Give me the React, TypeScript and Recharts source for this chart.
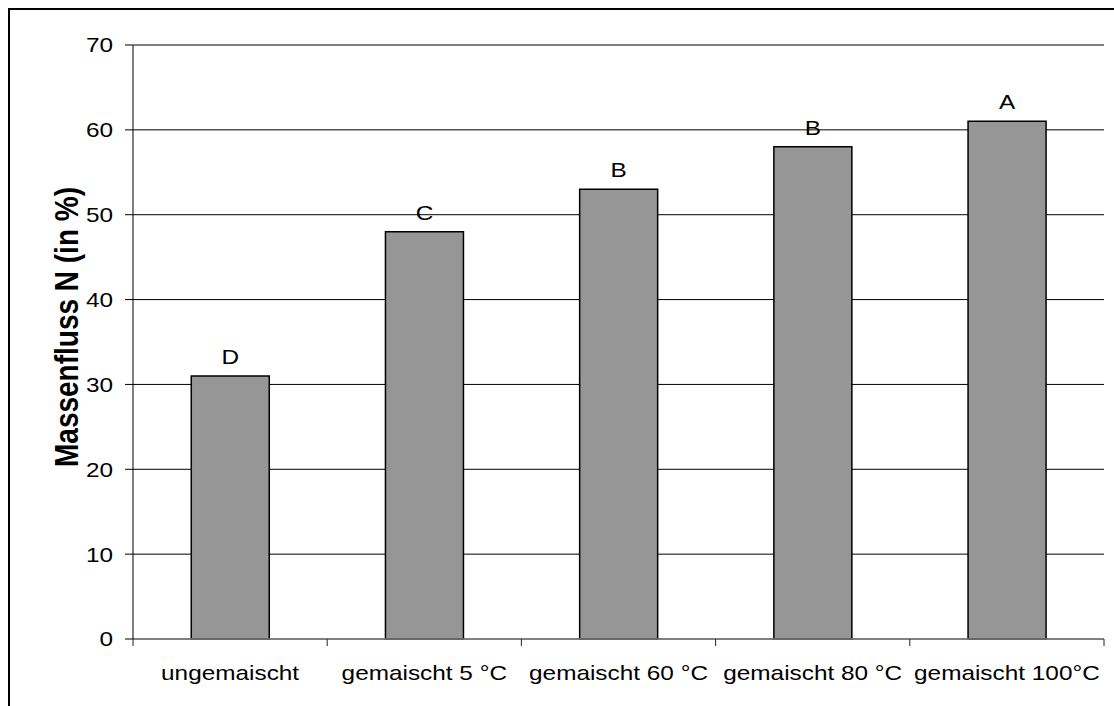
import { BarChart, Bar, XAxis, YAxis, CartesianGrid, LabelList, Label } from 'recharts';

const categories = ['ungemaischt', 'gemaischt 5 °C', 'gemaischt 60 °C', 'gemaischt 80 °C', 'gemaischt 100°C'];
const massFlow = [31, 48, 53, 58, 61];
const groupLetters = ['D', 'C', 'B', 'B', 'A'];
const yTicks = [0, 10, 20, 30, 40, 50, 60, 70];

const chartData = categories.map((name, i) => ({
  name,
  value: massFlow[i],
  group: groupLetters[i],
}));

const FONT = '"Liberation Sans", Arial, sans-serif';
const STRETCH = 1.16;

function WideText({ x, y, anchor, size, bold, dy, children }: any) {
  return (
    <g transform={`translate(${x},${y}) scale(${STRETCH},1)`}>
      <text
        x={0}
        y={0}
        dy={dy}
        textAnchor={anchor}
        fontFamily={FONT}
        fontSize={size}
        fontWeight={bold ? 'bold' : 'normal'}
        fill="#000"
      >
        {children}
      </text>
    </g>
  );
}

function YTick(props: any) {
  const { x, y, payload } = props;
  return <WideText x={x} y={y} anchor="end" size={21} dy="0.355em">{payload.value}</WideText>;
}

function XTick(props: any) {
  const { x, y, payload, index } = props;
  const half = payload.offset ?? 97;
  return (
    <g>
      {index === 0 && <line x1={x - half} y1={y} x2={x - half} y2={y + 7} stroke="#222" strokeWidth={1} />}
      <line x1={x + half} y1={y} x2={x + half} y2={y + 7} stroke="#222" strokeWidth={1} />
      <WideText x={x} y={y + 41} anchor="middle" size={21}>{payload.value}</WideText>
    </g>
  );
}

function GroupLabel(props: any) {
  const { x, y, width, value } = props;
  return <WideText x={x + width / 2} y={y - 12} anchor="middle" size={21}>{value}</WideText>;
}

function AxisTitle(props: any) {
  const { viewBox } = props;
  const cx = viewBox.x + 66;
  const cy = viewBox.y + viewBox.height / 2 - 15;
  return (
    <g transform={`translate(${cx},${cy}) scale(${STRETCH},1) rotate(-90)`}>
      <text x={0} y={0} dy="0.355em" textAnchor="middle" fontFamily={FONT} fontSize={28} fontWeight="bold" fill="#000">
        Massenfluss N (in %)
      </text>
    </g>
  );
}

export default function App() {
  return (
    <div style={{ position: 'absolute', left: 0, top: 0, width: 1114, height: 706, background: '#fff' }}>
      <div
        style={{
          position: 'absolute',
          left: 8,
          top: 8,
          width: 1106,
          height: 698,
          borderTop: '2px solid #000',
          borderLeft: '2px solid #000',
          boxSizing: 'border-box',
        }}
      />
      <div style={{ position: 'absolute', left: 0, top: 0 }}>
        <BarChart
          width={1114}
          height={706}
          data={chartData}
          margin={{ top: 45, right: 10, bottom: 0, left: 0 }}
          barCategoryGap="30%"
        >
          <CartesianGrid vertical={false} stroke="#000" strokeWidth={1} />
          <XAxis
            dataKey="name"
            height={67}
            axisLine={{ stroke: '#808080', strokeWidth: 1.5 }}
            tickLine={false}
            tickSize={0}
            tickMargin={0}
            interval={0}
            tick={<XTick />}
          />
          <YAxis
            width={133}
            domain={[0, 70]}
            ticks={yTicks}
            interval={0}
            axisLine={{ stroke: '#000' }}
            tickLine={{ stroke: '#000' }}
            tickSize={8}
            tickMargin={12}
            tick={<YTick />}
          >
            <Label content={<AxisTitle />} />
          </YAxis>
          <Bar dataKey="value" fill="#969696" stroke="#000" strokeWidth={1.5} isAnimationActive={false}>
            <LabelList dataKey="group" content={<GroupLabel />} />
          </Bar>
        </BarChart>
      </div>
    </div>
  );
}
